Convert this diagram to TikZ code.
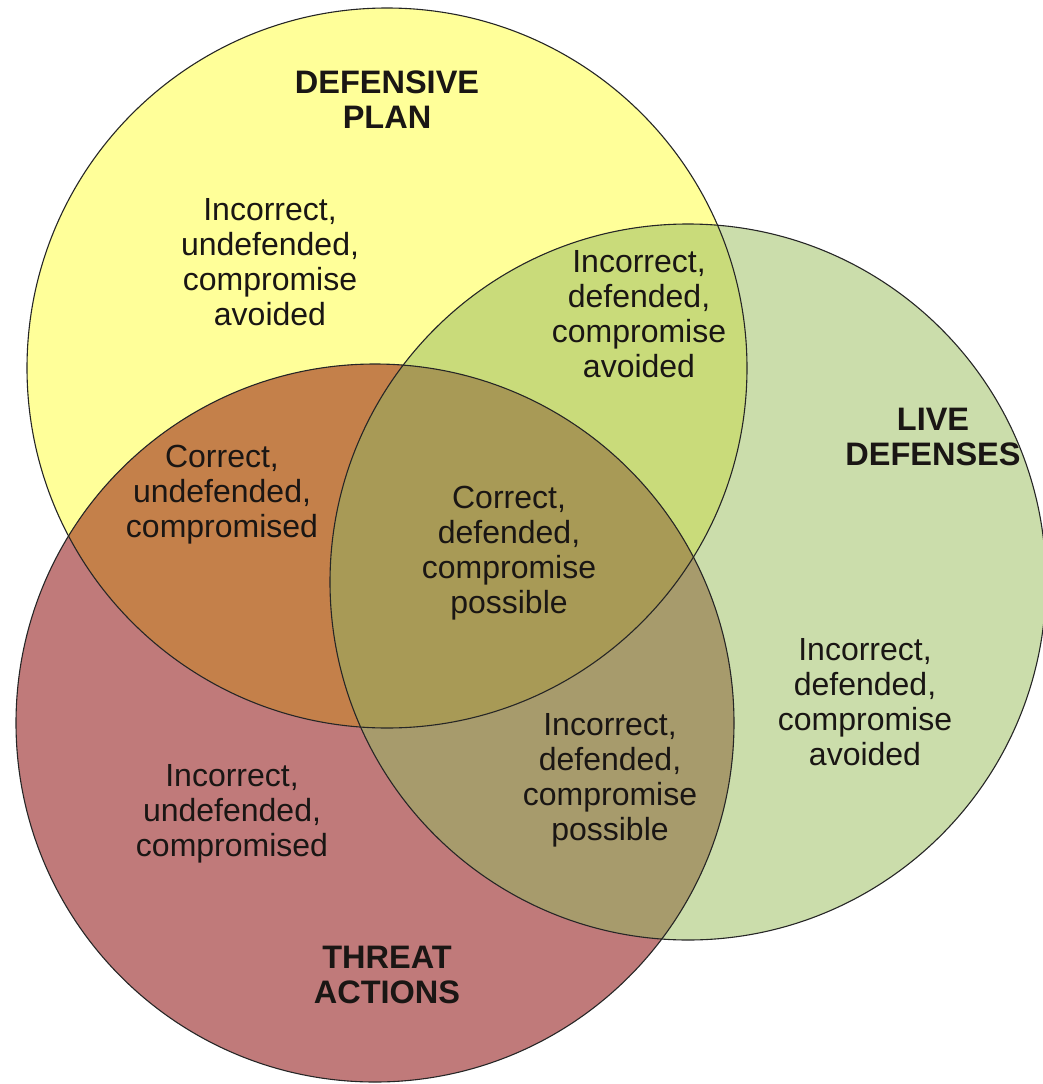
\documentclass[tikz,border=0pt]{standalone}
\usepackage{fontspec}
\setmainfont{Liberation Sans}

\definecolor{planyellow}{RGB}{255,255,153}
\definecolor{livegreen}{RGB}{203,221,171}
\definecolor{threatred}{RGB}{192,122,122}
\definecolor{planthreat}{RGB}{196,128,74}
\definecolor{planlive}{RGB}{201,219,122}
\definecolor{livethreat}{RGB}{167,155,108}
\definecolor{allthree}{RGB}{168,154,86}
\definecolor{inktext}{RGB}{26,22,20}

\begin{document}
\begin{tikzpicture}[x=1pt, y=-1pt]
    % Styles
    \tikzstyle{region text}=[align=center, text=inktext, inner sep=0pt, font=\fontsize{32}{35}\selectfont]
    \tikzstyle{set title}=[align=center, text=inktext, inner sep=0pt, font=\fontsize{32.5}{35}\selectfont\bfseries]
    \tikzstyle{set border}=[draw=black!85, line width=1.1pt]

    \useasboundingbox (0,0) rectangle (1042,1084);

    % --- Circle centres ---
    \coordinate (plan) at (387,368);
    \coordinate (live) at (688,582);
    \coordinate (threat) at (375,723);

    % --- Single regions ---
    \fill[planyellow] (plan) circle (360pt);
    \fill[livegreen] (live) circle (358pt);
    \fill[threatred] (threat) circle (359pt);

    % --- Live & Threat overlap ---
    \begin{scope}
        \clip (live) circle (358pt);
        \fill[livethreat] (threat) circle (359pt);
    \end{scope}

    % --- Overlaps with the plan ---
    \begin{scope}
        \clip (plan) circle (360pt);
        \fill[planlive] (live) circle (358pt);
        \fill[planthreat] (threat) circle (359pt);
        \clip (live) circle (358pt);
        \fill[allthree] (threat) circle (359pt);
    \end{scope}

    % --- Borders ---
    \draw[set border] (plan) circle (360pt);
    \draw[set border] (live) circle (358pt);
    \draw[set border] (threat) circle (359pt);

    % --- Set titles ---
    \node[set title] (plan_title) at (387,100) {DEFENSIVE\\PLAN};
    \node[set title] (live_title) at (933,437) {LIVE\\DEFENSES};
    \node[set title] (threat_title) at (387,975) {THREAT\\ACTIONS};

    % --- Region labels ---
    \node[region text] (plan_only) at (270,262) {Incorrect,\\undefended,\\compromise\\avoided};
    \node[region text] (plan_live) at (639,314) {Incorrect,\\defended,\\compromise\\avoided};
    \node[region text] (plan_threat) at (222,495) {Correct,\\undefended,\\compromised};
    \node[region text] (all_three) at (509,553) {Correct,\\defended,\\compromise\\possible};
    \node[region text] (live_only) at (865,702) {Incorrect,\\defended,\\compromise\\avoided};
    \node[region text] (live_threat) at (610,780) {Incorrect,\\defended,\\compromise\\possible};
    \node[region text] (threat_only) at (232,814) {Incorrect,\\undefended,\\compromised};

\end{tikzpicture}
\end{document}
